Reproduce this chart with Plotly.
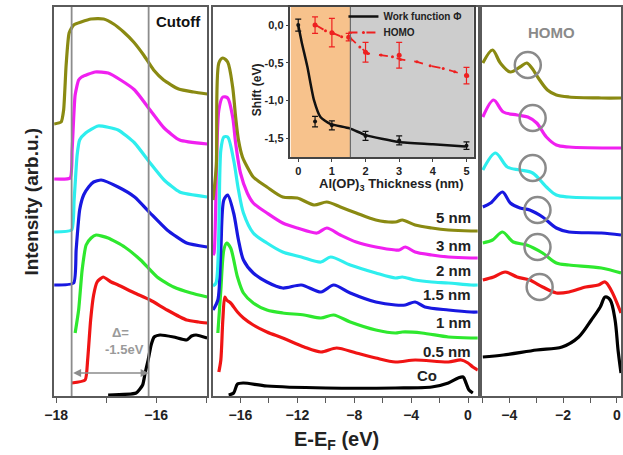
import plotly.graph_objects as go

W, H = 623, 455

labels = ["Co", "0.5 nm", "1 nm", "1.5 nm", "2 nm", "3 nm", "5 nm"]
colors = ["#000000", "#f01414", "#2ee82e", "#1818e0", "#2eeeee", "#f020f0", "#8a8a12"]

# ---------------- left panel (secondary-electron cutoff) ----------------
left_E_co = [-16.96, -16.40, -16.27, -16.22, -16.16, -16.10, -16.04, -15.92, -15.65, -15.39, -15.29, -15.20, -14.98]
left_I_co = [1, 3, 11, 23, 36, 51, 59, 61, 59, 56, 60, 61, 58]
left_E_05 = [-17.69, -17.42, -17.37, -17.31, -17.25, -17.18, -17.06, -16.90, -16.76, -16.43, -16.12, -15.78, -15.39, -15.15, -14.98]
left_I_05 = [13, 16, 36, 76, 101, 114, 119, 114, 111, 103, 96, 86, 76, 74, 73]
left_E_1 = [-17.62, -17.55, -17.48, -17.40, -17.30, -17.20, -16.96, -16.63, -16.31, -15.98, -15.65, -15.30, -14.98]
left_I_1 = [63, 86, 126, 151, 158, 161, 158, 149, 136, 119, 109, 103, 99]
left_E_15 = [-18.04, -17.65, -17.60, -17.53, -17.45, -17.35, -17.25, -17.10, -16.76, -16.43, -16.12, -15.78, -15.39, -14.98]
left_I_15 = [111, 113, 146, 186, 201, 209, 214, 216, 209, 199, 183, 166, 153, 149]
left_E_2 = [-18.04, -17.69, -17.64, -17.58, -17.53, -17.41, -17.16, -16.76, -16.43, -16.12, -15.84, -15.53, -14.98]
left_I_2 = [164, 166, 196, 241, 256, 263, 270, 266, 253, 233, 216, 204, 199]
left_E_3 = [-18.04, -17.72, -17.68, -17.62, -17.55, -17.49, -17.22, -16.96, -16.71, -16.43, -16.12, -15.84, -15.53, -14.98]
left_I_3 = [217, 218, 246, 301, 316, 319, 324, 323, 316, 306, 286, 268, 256, 252]
left_E_5 = [-18.04, -17.90, -17.85, -17.80, -17.74, -17.65, -17.50, -17.30, -17.05, -16.85, -16.65, -16.45, -16.25, -16.05, -15.85, -15.55, -15.25, -14.98]
left_I_5 = [272, 274, 286, 331, 363, 371, 374, 377, 377, 372, 364, 354, 341, 326, 316, 307, 304, 302]

# ---------------- middle panel (full spectrum) ----------------
mid_E_co = [-16.83, -16.48, -16.21, -15.79, -14.14, -10.0, -5.10, -2.55, -1.38, -0.69, -0.34, -0.14, 0.07, 0.34]
mid_I_co = [1, 3, 12, 13, 10, 8, 8, 9, 13, 18, 19, 13, 6, 3]
mid_E_05 = [-17.52, -17.38, -17.24, -17.10, -16.97, -16.69, -16.21, -15.79, -15.10, -14.14, -13.03, -11.52, -10.34, -9.24, -7.86, -6.48, -5.10, -3.72, -1.38, -0.48, 0.0, 0.34, 0.69]
mid_I_05 = [24, 36, 76, 99, 96, 93, 84, 78, 71, 64, 58, 49, 44, 48, 43, 38, 34, 36, 34, 36, 33, 29, 26]
mid_E_1 = [-17.59, -17.38, -17.17, -16.97, -16.69, -16.21, -15.79, -15.10, -14.14, -13.03, -11.52, -10.34, -9.45, -8.28, -6.48, -5.10, -4.62, -3.24, -1.38, 0.21, 0.69]
mid_I_1 = [63, 106, 146, 153, 148, 119, 103, 93, 86, 83, 81, 78, 81, 74, 66, 63, 64, 63, 59, 58, 58]
mid_E_15 = [-17.93, -17.59, -17.38, -17.17, -16.90, -16.48, -16.14, -15.79, -15.10, -14.14, -13.03, -11.72, -10.34, -9.45, -8.28, -6.48, -5.10, -4.41, -3.72, -3.03, -1.38, 0.21, 0.69]
mid_I_15 = [86, 96, 146, 196, 201, 183, 156, 136, 123, 114, 108, 111, 104, 111, 103, 94, 91, 91, 94, 89, 86, 84, 84]
mid_E_2 = [-17.93, -17.72, -17.38, -17.17, -16.90, -16.48, -16.14, -15.79, -15.10, -14.14, -13.03, -11.72, -10.34, -9.66, -8.28, -6.48, -5.10, -4.62, -3.72, -2.55, -1.38, 0.21, 0.69]
mid_I_2 = [110, 113, 246, 259, 259, 236, 206, 183, 163, 153, 144, 139, 134, 139, 131, 123, 118, 119, 116, 114, 113, 111, 111]
mid_E_3 = [-17.93, -17.86, -17.52, -17.24, -16.90, -16.55, -16.34, -16.0, -15.52, -15.10, -14.14, -13.03, -12.0, -10.62, -9.93, -8.97, -7.86, -6.48, -5.10, -4.83, -4.41, -3.72, -2.55, -1.38, 0.21, 0.69]
mid_I_3 = [141, 143, 286, 299, 298, 279, 253, 223, 203, 193, 183, 173, 168, 163, 168, 161, 154, 149, 146, 146, 149, 144, 141, 139, 138, 138]
mid_E_5 = [-17.93, -17.70, -17.52, -17.24, -16.90, -16.55, -16.34, -16.14, -15.86, -15.52, -15.10, -14.14, -13.03, -12.0, -10.83, -9.93, -8.97, -7.86, -6.48, -5.10, -4.62, -3.72, -2.55, -1.38, 0.21, 0.69]
mid_I_5 = [196, 230, 333, 338, 334, 309, 279, 256, 239, 229, 219, 209, 199, 198, 191, 194, 189, 183, 176, 174, 176, 171, 168, 166, 165, 165]

# ---------------- right panel (HOMO region) ----------------
right_E_co = [-4.98, -4.22, -2.98, -2.04, -1.42, -0.95, -0.62, -0.44, -0.25, -0.07, 0.04, 0.15]
right_I_co = [39, 41, 46, 49, 59, 76, 89, 99, 96, 76, 46, 23]
right_E_05 = [-4.98, -4.58, -4.15, -3.71, -3.24, -2.76, -2.25, -1.78, -1.16, -0.69, -0.44, -0.22, 0.15]
right_I_05 = [116, 119, 124, 119, 116, 109, 103, 104, 109, 111, 114, 106, 83]
right_E_1 = [-4.98, -4.62, -4.25, -3.85, -3.35, -2.76, -2.25, -1.78, -0.58, 0.15]
right_I_1 = [153, 156, 164, 154, 151, 143, 133, 131, 128, 123]
right_E_15 = [-4.98, -4.69, -4.25, -3.96, -3.60, -3.24, -2.76, -2.25, -1.78, -0.58, 0.15]
right_I_15 = [189, 193, 204, 193, 188, 186, 179, 168, 164, 163, 161]
right_E_2 = [-4.98, -4.51, -4.07, -3.60, -3.13, -2.62, -2.25, -1.78, 0.15]
right_I_2 = [226, 243, 229, 226, 223, 209, 201, 199, 198]
right_E_3 = [-4.98, -4.58, -4.22, -3.71, -3.31, -2.98, -2.62, -2.25, -1.78, 0.15]
right_I_3 = [279, 296, 284, 281, 279, 273, 259, 251, 249, 248]
right_E_5 = [-4.98, -4.62, -4.33, -3.96, -3.60, -3.35, -3.16, -2.87, -2.58, -2.25, -1.78, -0.58, 0.15]
right_I_5 = [333, 346, 333, 324, 329, 333, 328, 316, 306, 301, 299, 298, 298]

homo_circle_E = [-3.31, -3.13, -3.13, -2.95, -2.95, -2.87]
homo_circle_I = [331, 278, 228, 186, 149, 109]

# ---------------- inset ----------------
wf_x = [0, 0.5, 1, 2, 3, 5]
wf_y = [0.0, -1.28, -1.33, -1.47, -1.53, -1.60]
wf_err = [0.08, 0.07, 0.06, 0.06, 0.06, 0.05]
wf_fit_x = [0.0, 0.1, 0.27, 0.47, 0.66, 0.95, 1.53, 2.01, 2.98, 4.0, 4.97]
wf_fit_y = [0.0, -0.22, -0.55, -1.0, -1.22, -1.31, -1.37, -1.46, -1.55, -1.58, -1.61]
homo_x = [0.5, 1, 1.5, 2, 3, 5]
homo_y = [0.0, -0.10, -0.16, -0.36, -0.40, -0.67]
homo_err = [0.11, 0.19, 0.05, 0.13, 0.17, 0.11]
homo_fit_x = [0.52, 0.81, 1.05, 1.29, 1.53, 1.83, 2.07, 2.46, 2.80, 3.04, 3.53, 3.92, 4.31, 4.65, 5.04]
homo_fit_y = [0.0, -0.075, -0.11, -0.155, -0.164, -0.29, -0.376, -0.398, -0.42, -0.456, -0.487, -0.54, -0.575, -0.619, -0.677]

mid_label_I = [21, 45, 74, 102, 126, 150, 178]

left_ticks = [-18, -16]
mid_ticks = [-16, -12, -8, -4, 0]
right_ticks = [-4, -2, 0]
inset_x_ticks = [0, 1, 2, 3, 4, 5]
inset_y_ticks = [0, -0.5, -1.0, -1.5]
inset_y_ticktext = ["0,0", "-0,5", "-1,0", "-1,5"]

left_series = [(left_E_co, left_I_co), (left_E_05, left_I_05), (left_E_1, left_I_1), (left_E_15, left_I_15),
               (left_E_2, left_I_2), (left_E_3, left_I_3), (left_E_5, left_I_5)]
mid_series = [(mid_E_co, mid_I_co), (mid_E_05, mid_I_05), (mid_E_1, mid_I_1), (mid_E_15, mid_I_15),
              (mid_E_2, mid_I_2), (mid_E_3, mid_I_3), (mid_E_5, mid_I_5)]
right_series = [(right_E_co, right_I_co), (right_E_05, right_I_05), (right_E_1, right_I_1), (right_E_15, right_I_15),
                (right_E_2, right_I_2), (right_E_3, right_I_3), (right_E_5, right_I_5)]

FONT = "Liberation Sans, Arial, sans-serif"
fig = go.Figure()

for panel, (xa, ya), sm in zip([left_series, mid_series, right_series],
                               [("x", "y"), ("x2", "y2"), ("x3", "y3")], [0.5, 0.8, 0.9]):
    for (e, i), c, lab in zip(panel, colors, labels):
        fig.add_trace(go.Scatter(x=e, y=i, xaxis=xa, yaxis=ya, mode="lines", name=lab, showlegend=False,
                                 line=dict(color=c, width=3.2, shape="spline", smoothing=sm)))

fig.add_trace(go.Scatter(x=homo_circle_E, y=homo_circle_I, xaxis="x3", yaxis="y3", mode="markers",
                         showlegend=False,
                         marker=dict(symbol="circle-open", size=26, color="#8a8a8a", line=dict(width=2.5, color="#8a8a8a"))))

# inset traces
fig.add_trace(go.Scatter(x=wf_fit_x, y=wf_fit_y, xaxis="x4", yaxis="y4", mode="lines", name="Work function \u03a6",
                         legend="legend", line=dict(color="#111111", width=2.5, shape="spline", smoothing=0.6)))
fig.add_trace(go.Scatter(x=wf_x, y=wf_y, xaxis="x4", yaxis="y4", mode="markers", showlegend=False,
                         marker=dict(color="#111111", size=4),
                         error_y=dict(type="data", array=wf_err, color="#111111", thickness=1.2, width=3)))
fig.add_trace(go.Scatter(x=homo_fit_x, y=homo_fit_y, xaxis="x4", yaxis="y4", mode="lines+markers", name="HOMO",
                         legend="legend2", line=dict(color="#ee2020", width=1.8, dash="dash"),
                         marker=dict(color="#ee2020", size=3)))
fig.add_trace(go.Scatter(x=homo_x, y=homo_y, xaxis="x4", yaxis="y4", mode="markers", showlegend=False,
                         marker=dict(color="#ee2020", size=5),
                         error_y=dict(type="data", array=homo_err, color="#ee2020", thickness=1.2, width=3)))

frame = dict(showline=True, mirror=True, linecolor="#5a5a5a", linewidth=1.5, showgrid=False, zeroline=False)
tickfont = dict(family=FONT, size=14, color="#222222", weight="bold")
ydom = [1 - 396 / H, 1 - 7 / H]

def xdom(a, b):
    return [a / W, b / W]

def minor(d, t0):
    return dict(ticks="outside", ticklen=5, tickcolor="#5a5a5a", dtick=d, tick0=t0, showgrid=False)

legfont = dict(family=FONT, size=10, color="#222222", weight="bold")
fig.update_layout(
    width=W, height=H, autosize=False,
    margin=dict(l=0, r=0, t=0, b=0),
    paper_bgcolor="white", plot_bgcolor="white",
    font=dict(family=FONT, color="#222222"),
    xaxis=dict(domain=xdom(45, 201), anchor="y", range=[-18.04, -14.98], tickvals=left_ticks,
               ticks="outside", ticklen=5, tickcolor="#5a5a5a", minor=minor(1, -18),
               tickfont=tickfont, ticklabeloverflow="allow", **frame),
    yaxis=dict(domain=ydom, anchor="x", range=[0, 389], showticklabels=False, ticks="", **frame),
    xaxis2=dict(domain=xdom(207, 477), anchor="y2", range=[-17.93, 0.69], tickvals=mid_ticks,
                ticks="outside", ticklen=5, tickcolor="#5a5a5a", minor=minor(2, 0),
                tickfont=tickfont, ticklabeloverflow="allow", **frame),
    yaxis2=dict(domain=ydom, anchor="x2", range=[0, 389], showticklabels=False, ticks="", **frame),
    xaxis3=dict(domain=xdom(481, 623), anchor="y3", range=[-5.02, 0.15], tickvals=right_ticks,
                ticks="outside", ticklen=5, tickcolor="#5a5a5a", minor=minor(1, 0),
                tickfont=tickfont, ticklabeloverflow="allow", **frame),
    yaxis3=dict(domain=ydom, anchor="x3", range=[0, 389], showticklabels=False, ticks="", **frame),
    xaxis4=dict(domain=xdom(286, 473), anchor="y4", range=[-0.23, 5.22], tickvals=inset_x_ticks,
                ticks="outside", ticklen=3, tickcolor="#444444",
                tickfont=dict(family=FONT, size=11, color="#222222", weight="bold"),
                showline=True, mirror=True, linecolor="#444444", linewidth=1.5, showgrid=False, zeroline=False),
    yaxis4=dict(domain=[1 - 157 / H, 1 - 7 / H], anchor="x4", range=[-1.75, 0.24],
                tickvals=inset_y_ticks, ticktext=inset_y_ticktext,
                ticks="outside", ticklen=3, tickcolor="#444444",
                tickfont=dict(family=FONT, size=11, color="#222222", weight="bold"),
                showline=True, mirror=True, linecolor="#444444", linewidth=1.5, showgrid=False, zeroline=False),
    legend=dict(x=340 / W, y=1 - 2 / H, xanchor="left", yanchor="top", bgcolor="rgba(0,0,0,0)",
                font=legfont, itemwidth=30, tracegroupgap=0),
    legend2=dict(x=340 / W, y=1 - 18 / H, xanchor="left", yanchor="top", bgcolor="rgba(0,0,0,0)",
                 font=legfont, itemwidth=30, tracegroupgap=0),
    showlegend=True,
)

# shapes
fig.add_shape(type="rect", xref="x4", yref="y4", x0=-0.23, x1=1.55, y0=-1.75, y1=0.24,
              fillcolor="#f7c28c", line=dict(width=0), layer="below")
fig.add_shape(type="rect", xref="x4", yref="y4", x0=1.55, x1=5.22, y0=-1.75, y1=0.24,
              fillcolor="#cdcdcd", line=dict(width=0), layer="below")
fig.add_shape(type="line", xref="x4", yref="y4", x0=1.55, x1=1.55, y0=-1.75, y1=0.24,
              line=dict(color="#6a6a6a", width=1.2))
for xv in [-17.69, -16.15]:
    fig.add_shape(type="line", xref="x", yref="y", x0=xv, x1=xv, y0=0, y1=389,
                  line=dict(color="#8c8c8c", width=1.8))

# arrow in left panel
fig.add_annotation(x=-16.15, y=23, ax=-17.69, ay=23, xref="x", yref="y", axref="x", ayref="y",
                   text="", showarrow=True, arrowhead=2, arrowside="end+start", arrowsize=1,
                   arrowwidth=1.6, arrowcolor="#8c8c8c")
fig.add_annotation(x=-16.71, y=64, xref="x", yref="y", text="\u0394=", showarrow=False,
                   xanchor="center", yanchor="middle",
                   font=dict(family=FONT, size=13, color="#9a9a9a", weight="bold"))
fig.add_annotation(x=-16.63, y=47, xref="x", yref="y", text="-1.5eV", showarrow=False,
                   xanchor="center", yanchor="middle",
                   font=dict(family=FONT, size=13, color="#9a9a9a", weight="bold"))
fig.add_annotation(x=-15.55, y=374, xref="x", yref="y", text="Cutoff", showarrow=False,
                   xanchor="center", yanchor="middle",
                   font=dict(family=FONT, size=15, color="#111111", weight="bold"))

# middle labels
for lab, yi in zip(labels, mid_label_I):
    if lab == "Co":
        fig.add_annotation(x=-2.9, y=yi, xref="x2", yref="y2", text=lab, showarrow=False,
                           xanchor="center", yanchor="middle",
                           font=dict(family=FONT, size=15, color="#222222", weight="bold"))
    else:
        fig.add_annotation(x=0.35, y=yi, xref="x2", yref="y2", text=lab, showarrow=False, xanchor="right",
                           yanchor="middle", font=dict(family=FONT, size=15, color="#222222", weight="bold"))

fig.add_annotation(x=-2.44, y=363, xref="x3", yref="y3", text="HOMO", showarrow=False,
                   xanchor="center", yanchor="middle",
                   font=dict(family=FONT, size=15, color="#8a8a8a", weight="bold"))

# axis titles
fig.add_annotation(x=333 / W, y=1 - 440 / H, xref="paper", yref="paper", text="E-E<sub>F</sub> (eV)",
                   xanchor="center", yanchor="middle",
                   showarrow=False, font=dict(family=FONT, size=20, color="#222222", weight="bold"))
fig.add_annotation(x=21 / W, y=1 - 202 / H, xref="paper", yref="paper", text="Intensity (arb.u.)",
                   xanchor="center", yanchor="middle",
                   textangle=-90, showarrow=False, font=dict(family=FONT, size=19, color="#222222", weight="bold"))
fig.add_annotation(x=388 / W, y=1 - 184 / H, xref="paper", yref="paper",
                   text="Al(OP)<sub>3</sub> Thickness (nm)", showarrow=False,
                   xanchor="center", yanchor="middle",
                   font=dict(family=FONT, size=13, color="#222222", weight="bold"))
fig.add_annotation(x=252 / W, y=1 - 90 / H, xref="paper", yref="paper", text="Shift (eV)", textangle=-90,
                   xanchor="center", yanchor="middle",
                   showarrow=False, font=dict(family=FONT, size=12, color="#222222", weight="bold"))

fig.write_html("out.html", config={"displayModeBar": False},
               post_script="document.body.style.margin='0';document.body.style.overflow='hidden';")
